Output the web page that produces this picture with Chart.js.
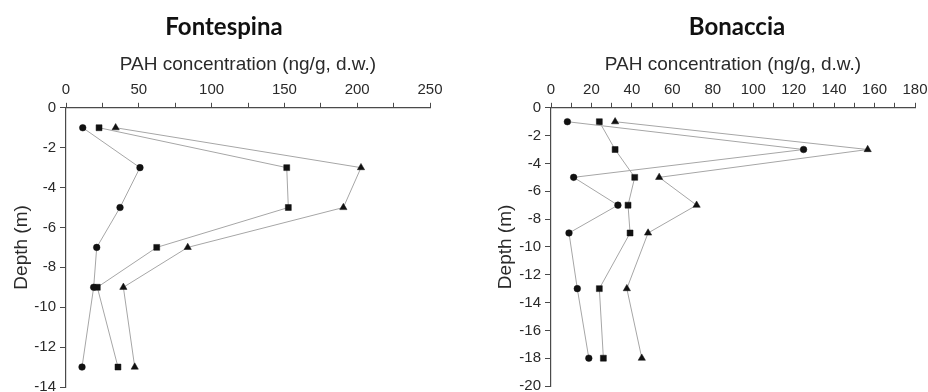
<!DOCTYPE html>
<html>
<head>
<meta charset="utf-8">
<title>PAH depth profiles</title>
<script src="https://cdn.jsdelivr.net/npm/chart.js@4.4.1/dist/chart.umd.min.js"></script>
<style>
  body { margin: 0; background: #fff; }
  #wrap { position: relative; width: 928px; height: 392px; background: #fff; }
  canvas { position: absolute; top: 0; }
  .site { position: absolute; top: 14px; width: 200px; text-align: center;
          font: bold 24px/24px Lato, "Noto Sans", sans-serif; color: #111; }
</style>
</head>
<body>
<div id="wrap">
  <canvas id="fontespinaChart" width="464" height="392" style="left:0"></canvas>
  <canvas id="bonacciaChart" width="464" height="392" style="left:464px"></canvas>
  <div class="site" style="left:124px">Fontespina</div>
  <div class="site" style="left:637px">Bonaccia</div>
</div>
<script>
// Fontespina
const fontespinaDepth = [-1, -3, -5, -7, -9, -13];
const fontespinaCircle = [11.5, 50.8, 37.1, 21.1, 19, 11];
const fontespinaSquare = [22.7, 151.6, 152.7, 62.3, 21.5, 35.7];
const fontespinaTriangle = [34.1, 202.6, 190.5, 83.6, 39.4, 47.2];

// Bonaccia
const bonacciaDepth = [-1, -3, -5, -7, -9, -13, -18];
const bonacciaCircle = [8.1, 124.9, 11.2, 33.1, 8.9, 13, 18.7];
const bonacciaSquare = [23.9, 31.7, 41.4, 38.1, 39.1, 23.9, 25.9];
const bonacciaTriangle = [31.7, 156.6, 53.5, 72, 48, 37.5, 44.9];

const xTitle = "PAH concentration (ng/g, d.w.)";
const yTitle = "Depth (m)";

const TEXT = "#2a2a2a";
const AXIS = "#4a4a4a";
const LINE = "#a6a6a6";
const MARK = "#111";

function toPoints(values, depths) {
    return values.map((v, i) => ({ x: v, y: depths[i] }));
}

function series(values, depths, style, radius) {
    return {
        data: toPoints(values, depths),
        showLine: true,
        borderColor: LINE,
        borderWidth: 1,
        pointStyle: style,
        pointRadius: radius,
        pointBackgroundColor: MARK,
        pointBorderColor: MARK,
        pointBorderWidth: 0.5
    };
}

function makeChart(id, depths, circle, square, triangle, cfg) {
    const ctx = document.getElementById(id).getContext("2d");
    return new Chart(ctx, {
        type: "scatter",
        data: {
            datasets: [
                series(circle, depths, "circle", 3.3),
                series(square, depths, "rect", 4.2),
                series(triangle, depths, "triangle", 4.2)
            ]
        },
        options: {
            responsive: false,
            animation: false,
            layout: { padding: { top: 53, left: 0, right: cfg.padRight, bottom: cfg.padBottom } },
            plugins: { legend: { display: false }, tooltip: { enabled: false } },
            scales: {
                x: {
                    type: "linear",
                    position: "top",
                    min: 0,
                    max: cfg.xMax,
                    // labels may overhang the edges; the layout padding decides the plot width
                    afterFit: scale => { scale.paddingLeft = 0; scale.paddingRight = 0; },
                    border: { display: true, color: AXIS, width: 1.2 },
                    grid: { drawOnChartArea: false, drawTicks: true, tickLength: 5, tickColor: AXIS },
                    ticks: {
                        stepSize: cfg.xStep,
                        autoSkip: false,
                        maxRotation: 0,
                        padding: 4,
                        color: TEXT,
                        font: { family: "Liberation Sans", size: 15 },
                        callback: v => (v % cfg.xLabelStep === 0 ? v : "")
                    },
                    title: {
                        display: true,
                        text: xTitle,
                        color: TEXT,
                        padding: { top: 0, bottom: 1 },
                        font: { family: "Liberation Sans", size: 19 }
                    }
                },
                y: {
                    type: "linear",
                    min: cfg.yMin,
                    max: 0,
                    afterFit: scale => {
                        scale.width = cfg.yWidth;
                        scale.paddingTop = 0;
                        scale.paddingBottom = 0;
                    },
                    border: { display: true, color: AXIS, width: 1.2 },
                    grid: { drawOnChartArea: false, drawTicks: true, tickLength: 6, tickColor: AXIS },
                    ticks: {
                        stepSize: 2,
                        padding: 4,
                        color: TEXT,
                        font: { family: "Liberation Sans", size: 15 }
                    },
                    title: {
                        display: true,
                        text: yTitle,
                        color: TEXT,
                        padding: { top: cfg.yTitlePad, bottom: 0 },
                        font: { family: "Liberation Sans", size: 19 }
                    }
                }
            }
        }
    });
}

makeChart("fontespinaChart", fontespinaDepth, fontespinaCircle, fontespinaSquare, fontespinaTriangle,
    { xMax: 250, xStep: 25, xLabelStep: 50, yMin: -14, yWidth: 66, yTitlePad: 10, padRight: 34, padBottom: 5 });

makeChart("bonacciaChart", bonacciaDepth, bonacciaCircle, bonacciaSquare, bonacciaTriangle,
    { xMax: 180, xStep: 10, xLabelStep: 20, yMin: -20, yWidth: 87, yTitlePad: 30, padRight: 13, padBottom: 6 });
</script>
</body>
</html>
